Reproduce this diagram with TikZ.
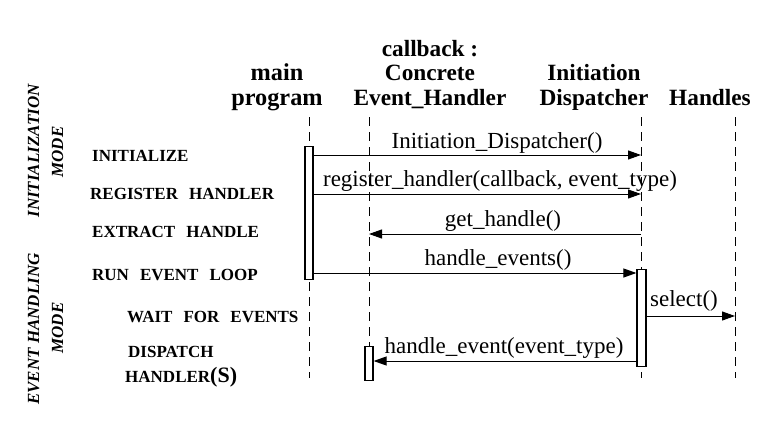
\documentclass[tikz,border=0pt]{standalone}
\usepackage{fontspec}
\setmainfont{Liberation Serif}
\usetikzlibrary{arrows.meta}
\newcommand\wsp{\hspace{11pt}}
\begin{document}
\begin{tikzpicture}[x=1pt,y=-1pt,
  lifeline/.style={line width=1pt, dash pattern=on 9pt off 6pt},
  actbox/.style={draw, fill=white, line width=1.2pt, inner sep=0pt, anchor=north},
  msg/.style={line width=1pt, -{Triangle[length=13pt,width=9pt]}},
  msglabel/.style={font=\fontsize{23}{26}\selectfont, anchor=base, inner sep=0pt},
  header/.style={font=\fontsize{23.3}{24.5}\selectfont\bfseries, align=center, anchor=base, inner sep=0pt},
  steplabel/.style={font=\fontsize{17}{20}\selectfont\bfseries, anchor=base west, inner sep=0pt},
  modelabel/.style={font=\fontsize{17}{20}\selectfont\bfseries\itshape, rotate=90, anchor=base, inner sep=0pt}]
\useasboundingbox (0,0) rectangle (770,444);

% headers
\node[header, font=\fontsize{24.3}{24.5}\selectfont\bfseries] (hmain) at (277,105) {main\\program};
\node[header] (hconc) at (430,105) {callback :\\Concrete\\Event\_Handler};
\node[header] (hdisp) at (594,105) {Initiation\\Dispatcher};
\node[header] (hhand) at (710,105) {Handles};

% lifelines
\coordinate (mainT) at (309,117); \coordinate (mainB) at (309,378);
\coordinate (concT) at (369,117); \coordinate (concB) at (369,378);
\coordinate (dispT) at (641,117); \coordinate (dispB) at (641,378);
\coordinate (handT) at (735,117); \coordinate (handB) at (735,378);
\draw[lifeline] (mainT) -- (mainB);
\draw[lifeline] (concT) -- (concB);
\draw[lifeline] (dispT) -- (dispB);
\draw[lifeline] (handT) -- (handB);

% activation boxes
\node[actbox, minimum width=8pt, minimum height=133pt] (mainact) at (309,146) {};
\node[actbox, minimum width=9pt, minimum height=97pt] (dispact) at (641.5,269) {};
\node[actbox, minimum width=8pt, minimum height=34pt] (concact) at (369,346) {};

% message end points
\coordinate (d1) at (641,155);
\coordinate (d2) at (641,194);
\coordinate (d3) at (641,234);
\coordinate (c3) at (369,234);
\coordinate (d4) at (641,273);
\coordinate (h5) at (735,316);
\coordinate (d6) at (641,361);

% messages
\draw[msg] (mainact.east |- d1) -- (d1);
\draw[msg] (mainact.east |- d2) -- (d2);
\draw[msg] (d3) -- (c3);
\draw[msg] (mainact.east |- d4) -- (dispact.west |- d4);
\draw[msg] (dispact.east |- h5) -- (h5);
\draw[msg] (dispact.west |- d6) -- (concact.east |- d6);

% message labels
\node[msglabel] (l1) at (497,148) {Initiation\_Dispatcher()};
\node[msglabel] (l2) at (500,186) {register\_handler(callback, event\_type)};
\node[msglabel] (l3) at (503,226) {get\_handle()};
\node[msglabel] (l4) at (498,265) {handle\_events()};
\node[msglabel] (l5) at (684,306) {select()};
\node[msglabel] (l6) at (504,353) {handle\_event(event\_type)};

% step labels
\node[steplabel] (s1) at (92,161) {INITIALIZE};
\node[steplabel] (s2) at (90,199) {REGISTER\wsp HANDLER};
\node[steplabel] (s3) at (92,237) {EXTRACT\wsp HANDLE};
\node[steplabel] (s4) at (92,280) {RUN\wsp EVENT\wsp LOOP};
\node[steplabel] (s5) at (127,322) {WAIT\wsp FOR\wsp EVENTS};
\node[steplabel] (s6) at (128,357) {DISPATCH};
\node[steplabel] (s7) at (125,382) {HANDLER{\fontsize{22}{22}\selectfont(S)}};

% mode labels
\node[modelabel] (m1) at (39,151) {INITIALIZATION};
\node[modelabel] (m2) at (63,152) {MODE};
\node[modelabel] (m3) at (39,329) {EVENT HANDLING};
\node[modelabel] (m4) at (63,328) {MODE};
\end{tikzpicture}
\end{document}
